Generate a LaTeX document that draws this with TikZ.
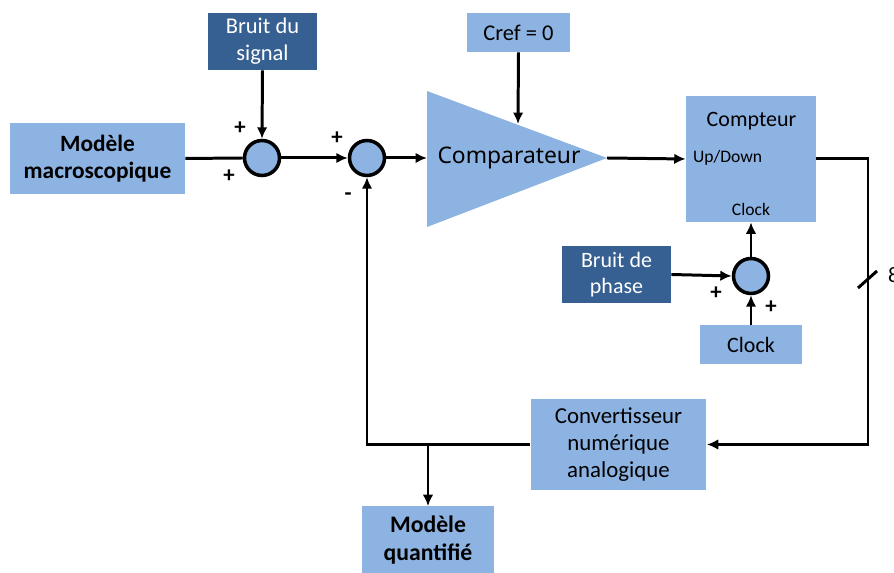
\documentclass[tikz,border=0pt]{standalone}
\usepackage{fontspec}
\setmainfont{Carlito}
\newfontfamily\policecomp{Noto Sans}
\usetikzlibrary{arrows.meta}
\definecolor{bleuclair}{HTML}{8DB3E2}
\definecolor{bleufonce}{HTML}{376092}
\begin{document}
\begin{tikzpicture}[x=0.02cm,y=-0.02cm]
	% Styles
	\tikzstyle{fleche}=[->,>={Latex[length=6.5pt,width=6pt]},line width=1.7pt]
	\tikzstyle{trait}=[-,line width=1.7pt]
	\tikzstyle{bloc}=[fill=bleuclair,inner sep=2pt,align=center]
	\tikzstyle{bruit}=[fill=bleufonce,text=white,inner sep=2pt,align=center]
	\tikzstyle{somme}=[circle,draw,line width=2pt,fill=bleuclair,minimum size=0.7cm,inner sep=0pt]
	\tikzstyle{signe}=[font=\fontsize{13}{13}\selectfont\bfseries]
	\tikzstyle{etiquette}=[inner sep=1pt]
	% Cadre
	\useasboundingbox (0,0) rectangle (894,573);
	% Blocs
	\node[bloc,minimum width=3.5cm,minimum height=1.42cm,font=\fontsize{13.3}{15.5}\selectfont\bfseries] (macro) at (97.5,158.5) {Modèle\\macroscopique};
	\node[bruit,minimum width=2.18cm,minimum height=1.14cm,font=\fontsize{12.8}{15.5}\selectfont] (bruitsig) at (262.5,41.5) {Bruit du\\signal};
	\node[bloc,minimum width=2.06cm,minimum height=0.78cm,font=\fontsize{12.8}{15}\selectfont] (cref) at (518.5,32.5) {Cref = 0};
	\node[bloc,minimum width=2.6cm,minimum height=2.52cm] (compteur) at (751,159) {};
	\node[bruit,minimum width=2.18cm,minimum height=1.14cm,font=\fontsize{12.5}{15}\selectfont] (bruitph) at (616.5,274.5) {Bruit de\\phase};
	\node[bloc,minimum width=2.04cm,minimum height=0.78cm,font=\fontsize{12.5}{15}\selectfont] (clock) at (751,344.5) {Clock};
	\node[bloc,minimum width=3.52cm,minimum height=1.84cm,font=\fontsize{13}{15.5}\selectfont] (cna) at (618.5,444.5) {Convertisseur\\numérique\\analogique};
	\node[bloc,minimum width=2.64cm,minimum height=1.34cm,font=\fontsize{13.5}{15.5}\selectfont\bfseries] (quant) at (428,540) {Modèle\\quantifié};
	% Comparateur
	\fill[bleuclair] (427,91) -- (607,158) -- (427,227) -- cycle;
	\coordinate (entree) at (427,158);
	\coordinate (sortie) at (607,158);
	\coordinate (consigne) at (518,124);
	\node[etiquette,font=\fontsize{13}{15}\policecomp] (comp) at (509,158) {Comparateur};
	% Textes du compteur
	\node[etiquette,font=\fontsize{12.5}{15}\selectfont] (titre) at (751.5,121) {Compteur};
	\node[etiquette,anchor=west,font=\fontsize{10}{12}\selectfont] (updown) at (691,158) {Up/Down};
	\node[etiquette,font=\fontsize{10}{12}\selectfont] (horloge) at (751,209) {Clock};
	% Sommateurs
	\node[somme] (s1) at (262,158) {};
	\node[somme] (s2) at (367,158) {};
	\node[somme] (s3) at (751,276) {};
	% Signes
	\node[signe] (p1) at (240,128) {+};
	\node[signe] (p2) at (229,176) {+};
	\node[signe] (p3) at (337,138) {+};
	\node[signe] (m1) at (348,197) {-};
	\node[signe] (p4) at (716,293) {+};
	\node[signe] (p5) at (771,307) {+};
	% Bus 8 bits
	\coordinate (bus) at (868,300);
	\coordinate (barreA) at (858,288);
	\coordinate (barreB) at (877,271);
	\coordinate (branche) at (428,444.5);
	\node[etiquette,anchor=west,font=\fontsize{12.5}{15}\selectfont] (nbits) at (886,275) {8};
	% Arcs
	\draw[trait] (macro.east)--(s1.west);
	\draw[fleche] (bruitsig.south)--(s1.north);
	\draw[fleche] (s1.east)--(s2.west);
	\draw[fleche] (s2.east)--(entree);
	\draw[fleche] (cref.south)--(consigne);
	\draw[fleche] (sortie)--(compteur.west);
	\draw[fleche] (bruitph.east)--(s3.west);
	\draw[fleche] (clock.north)--(s3.south);
	\draw[fleche] (s3.north)--(compteur.south);
	\draw[fleche] (compteur.east) -| (bus) |- (cna.east);
	\draw[trait] (barreA)--(barreB);
	\draw[fleche] (cna.west) -| (s2.south);
	\draw[fleche] (branche)--(quant.north);
\end{tikzpicture}
\end{document}
